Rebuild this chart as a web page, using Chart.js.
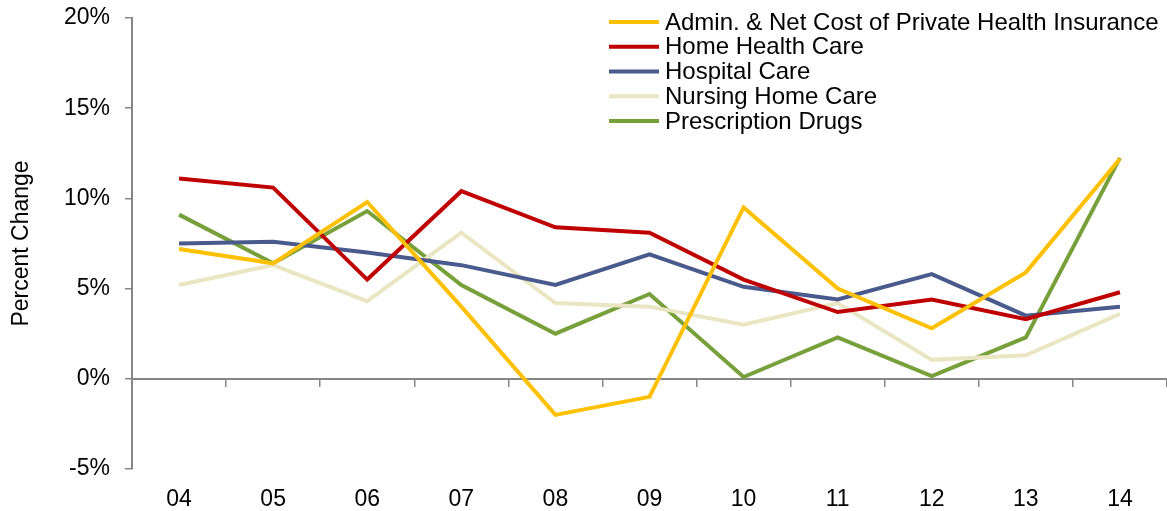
<!DOCTYPE html>
<html>
<head>
<meta charset="utf-8">
<script src="https://cdn.jsdelivr.net/npm/chart.js@4"></script>
<style>
  body { margin: 0; background: #fff; }
</style>
</head>
<body>
<canvas id="chart" width="1167" height="511"></canvas>
<script>
// categories (years)
const years = ['04', '05', '06', '07', '08', '09', '10', '11', '12', '13', '14']

// percent change by service
const adminInsurance = [7.2, 6.4, 9.8, 4.0, -2.0, -1.0, 9.5, 5.0, 2.8, 5.9, 12.2]
const homeHealth = [11.1, 10.6, 5.5, 10.4, 8.4, 8.1, 5.5, 3.7, 4.4, 3.3, 4.8]
const hospital = [7.5, 7.6, 7.0, 6.3, 5.2, 6.9, 5.1, 4.4, 5.8, 3.5, 4.0]
const nursingHome = [5.2, 6.3, 4.3, 8.1, 4.2, 4.0, 3.0, 4.2, 1.05, 1.3, 3.6]
const prescriptionDrugs = [9.1, 6.4, 9.3, 5.2, 2.5, 4.7, 0.1, 2.3, 0.15, 2.3, 12.25]

// y axis ticks
const Y_MIN = -5
const Y_MAX = 20
const Y_STEP = 5

const FONT = { family: 'Liberation Sans, Arial, sans-serif', size: 23 }
const LEGEND_FONT_SIZE = 24
const AXIS_GREY = '#868686'

function series(label, data, color) {
  return {
    label,
    data,
    borderColor: color,
    backgroundColor: color,
    borderWidth: 4,
    pointRadius: 0,
    tension: 0,
    fill: false
  }
}

// legend stacked at the top right, like the original
const sideLegend = {
  id: 'sideLegend',
  afterDraw(chart) {
    const ctx = chart.ctx
    ctx.save()
    ctx.font = LEGEND_FONT_SIZE + 'px ' + FONT.family
    ctx.textBaseline = 'middle'
    ctx.textAlign = 'left'
    chart.data.datasets.forEach((ds, i) => {
      const y = 22 + i * 24.75
      ctx.strokeStyle = ds.borderColor
      ctx.lineWidth = 4
      ctx.beginPath()
      ctx.moveTo(609, y)
      ctx.lineTo(659, y)
      ctx.stroke()
      ctx.fillStyle = '#000'
      ctx.fillText(ds.label, 665, y + 1)
    })
    ctx.restore()
  }
}

new Chart(document.getElementById('chart'), {
  type: 'line',
  data: {
    labels: years,
    datasets: [
      series('Admin. & Net Cost of Private Health Insurance', adminInsurance, '#FFC000'),
      series('Home Health Care', homeHealth, '#C00000'),
      series('Hospital Care', hospital, '#4A5A8C'),
      series('Nursing Home Care', nursingHome, '#EAE5C2'),
      series('Prescription Drugs', prescriptionDrugs, '#77A03B')
    ]
  },
  options: {
    responsive: false,
    devicePixelRatio: 1,
    animation: false,
    layout: { padding: { top: 18, right: 0, left: 0, bottom: 0 } },
    plugins: {
      legend: { display: false },
      tooltip: { enabled: false }
    },
    scales: {
      x: {
        type: 'category',
        offset: true,
        grid: { display: false },
        border: { display: false },
        ticks: { color: '#000', font: FONT, padding: 9, maxRotation: 0 },
        afterFit(scale) { scale.height = 42 }
      },
      // the zero line with its tick marks
      x0: {
        type: 'category',
        labels: years,
        position: { y: 0 },
        offset: true,
        grid: { offset: true, drawOnChartArea: false, tickLength: 7, color: AXIS_GREY, lineWidth: 1.5 },
        border: { color: AXIS_GREY, width: 2 },
        ticks: { display: false }
      },
      y: {
        min: Y_MIN,
        max: Y_MAX,
        ticks: {
          stepSize: Y_STEP,
          color: '#000',
          font: FONT,
          padding: 15,
          callback: v => v + '%'
        },
        grid: { drawOnChartArea: false, tickLength: 7, color: AXIS_GREY, lineWidth: 1.5 },
        border: { color: AXIS_GREY, width: 2 },
        title: { display: true, text: 'Percent Change', color: '#000', font: FONT, padding: { top: 8 } },
        afterFit(scale) {
          scale.width = 132
          scale.paddingTop = 0
          scale.paddingBottom = 0
        }
      }
    }
  },
  plugins: [sideLegend]
})
</script>
</body>
</html>
